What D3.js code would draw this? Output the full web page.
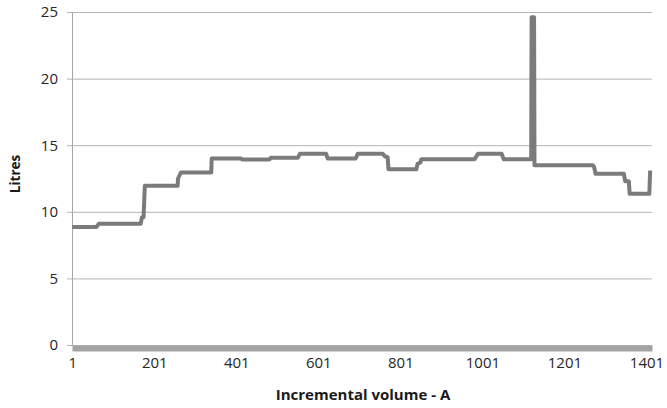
<!DOCTYPE html>
<html>
<head>
<meta charset="utf-8">
<script src="https://cdn.jsdelivr.net/npm/d3@7"></script>
<style>
  body { margin: 0; background: #fff; }
  svg text { font-family: "Open Sans", sans-serif; }
</style>
</head>
<body>
<svg id="chart" width="667" height="408"></svg>
<script>
// step profile of the series (category index, litres)
const stepCats = [1, 60, 66, 168, 171, 175, 178, 258, 259, 266, 340, 341, 413, 415, 482, 485,
  551, 556, 620, 624, 692, 697, 758, 764, 770, 772, 840, 843, 850, 852, 982, 990, 1048, 1053,
  1120, 1121, 1127, 1128, 1270, 1273, 1277, 1346, 1349, 1358, 1360, 1408, 1410];
const stepLitres = [8.85, 8.85, 9.1, 9.1, 9.6, 9.6, 11.95, 11.95, 12.5, 12.95, 12.95, 14.0, 14.0, 13.93, 13.93, 14.05,
  14.05, 14.35, 14.35, 14.0, 14.0, 14.35, 14.35, 14.15, 14.1, 13.2, 13.2, 13.6, 13.7, 13.95, 13.95, 14.35, 14.35, 13.95,
  13.95, 24.6, 24.6, 13.5, 13.5, 13.4, 12.85, 12.85, 12.3, 12.3, 11.35, 11.35, 13.1];
const xTicks = [1, 201, 401, 601, 801, 1001, 1201, 1401];
const yTicks = [0, 5, 10, 15, 20, 25];

const svg = d3.select("#chart");
const m = {left: 72, right: 15, top: 12, bottom: 63};
const W = 667, H = 408;

const x = d3.scaleLinear().domain([0.5, 1414.5]).range([m.left, W - m.right]);
const y = d3.scaleLinear().domain([0, 25]).range([H - m.bottom, m.top]);

// gridlines + y axis
const gy = svg.append("g").attr("transform", `translate(${m.left},0)`)
  .call(d3.axisLeft(y).tickValues(yTicks).tickSize(-(W - m.right - m.left)).tickSizeOuter(0).tickPadding(14));
gy.select(".domain").attr("stroke", "#a6a6a6");
gy.selectAll(".tick line").attr("stroke", "#b3b3b3").attr("x1", -5);
gy.selectAll(".tick text").attr("fill", "#262626").style("font-size", "15px");

// x axis (thick baseline)
const gx = svg.append("g").attr("transform", `translate(0,${y(0) + 3})`)
  .call(d3.axisBottom(x).tickValues(xTicks).tickFormat(d3.format("d")).tickSize(0).tickSizeOuter(0).tickPadding(9));
gx.select(".domain").attr("stroke", "#a3a3a3").attr("stroke-width", 6);
gx.selectAll(".tick text").attr("fill", "#262626").style("font-size", "15px");

const pts = stepCats.map((c, i) => [c, stepLitres[i]]);
svg.append("path")
  .datum(pts)
  .attr("fill", "none")
  .attr("stroke", "#7b7b7b")
  .attr("stroke-width", 4)
  .attr("stroke-linejoin", "round")
  .attr("d", d3.line().x(d => x(d[0])).y(d => y(d[1])));

svg.append("text")
  .attr("x", 363).attr("y", 400)
  .attr("text-anchor", "middle")
  .style("font-size", "15px").style("font-weight", "bold").attr("fill", "#1a1a1a")
  .text("Incremental volume - A");

svg.append("text")
  .attr("transform", `translate(20,174) rotate(-90)`)
  .attr("text-anchor", "middle")
  .style("font-size", "13.5px").style("font-weight", "bold").attr("fill", "#1a1a1a")
  .text("Litres");
</script>
</body>
</html>
